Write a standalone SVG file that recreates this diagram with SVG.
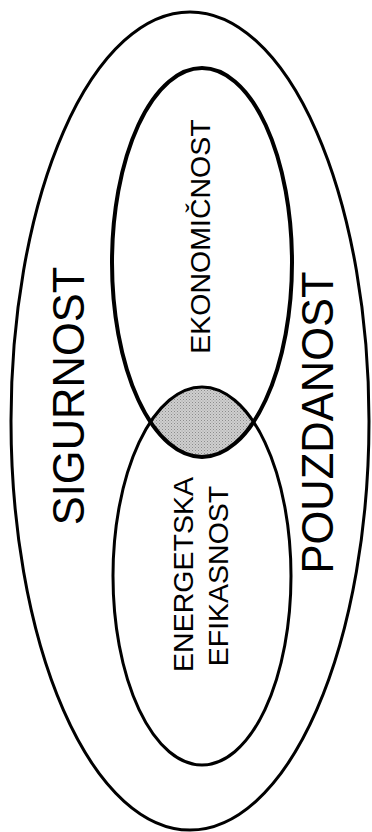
<svg xmlns="http://www.w3.org/2000/svg" width="372" height="832" viewBox="0 0 372 832">
<style>
.ring{fill:none;stroke:#000}
.lbl{font-family:"Liberation Sans",Arial,sans-serif;fill:#000;text-anchor:middle}
.big{font-size:43.5px}
.small{font-size:28.5px}
</style>
<defs>
<pattern id="stipple" width="3" height="3" patternUnits="userSpaceOnUse">
<rect width="3" height="3" fill="#cfcfcf"/>
<rect x="0" y="0" width="1" height="1" fill="#8c8c8c"/>
<rect x="1.5" y="1.5" width="1" height="1" fill="#a0a0a0"/>
</pattern>
</defs>
<rect width="372" height="832" fill="#fff"/>
<g id="sigurnost-pouzdanost">
<ellipse class="ring" cx="190" cy="421" rx="179" ry="409" stroke-width="3"/>
<text class="lbl big" transform="translate(84,396) rotate(-90)">SIGURNOST</text>
<text class="lbl big" transform="translate(333,422.5) rotate(-90)">POUZDANOST</text>
</g>
<g id="overlap">
<path d="M150.5,422 A89,189 0 0,1 253.5,422 A90,194.5 0 0,1 150.5,422 Z" fill="url(#stipple)"/>
</g>
<g id="ekonomicnost">
<ellipse class="ring" cx="202" cy="262.5" rx="90" ry="194.5" stroke-width="4"/>
<text class="lbl small" transform="translate(210,236.5) rotate(-90)">EKONOMIČNOST</text>
</g>
<g id="energetska-efikasnost">
<ellipse class="ring" cx="202" cy="576" rx="89" ry="189" stroke-width="3"/>
<text class="lbl small" transform="translate(193,574.5) rotate(-90)">ENERGETSKA</text>
<text class="lbl small" transform="translate(228,576) rotate(-90)">EFIKASNOST</text>
</g>
</svg>
